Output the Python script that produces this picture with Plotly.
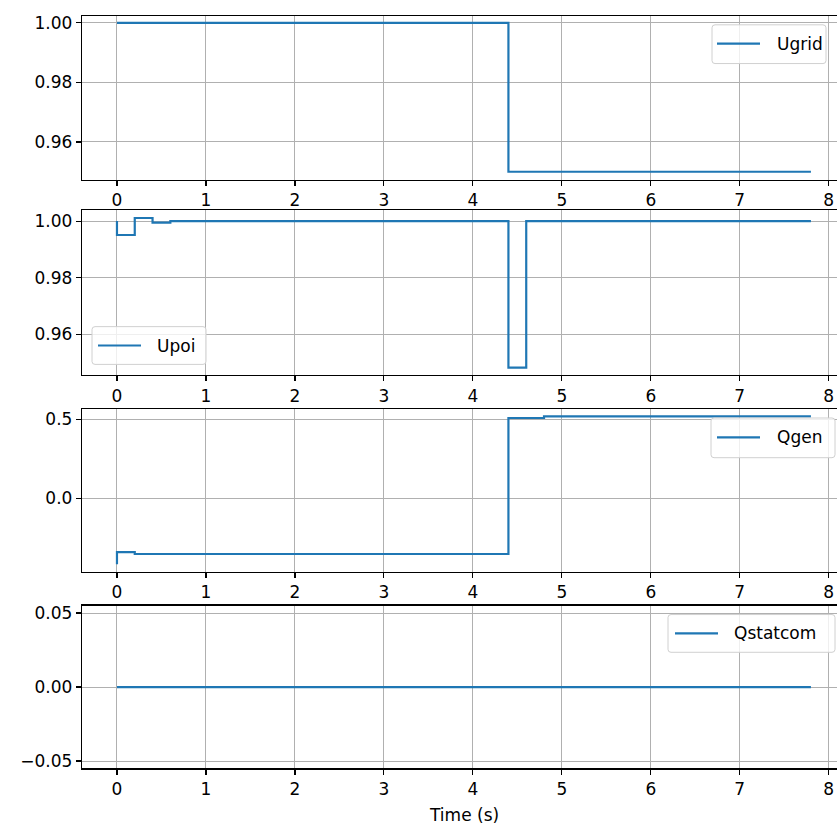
import plotly.graph_objects as go

# Step-change breakpoints (time in s, value held from that time on)
ugrid_t = [0.0, 4.4, 7.8]
ugrid_v = [1.0, 0.95, 0.95]

upoi_t = [0.0, 0.0, 0.2, 0.4, 0.6, 4.4, 4.6, 7.8]
upoi_v = [1.0, 0.9951, 1.0011, 0.9995, 1.0, 0.9483, 1.0, 1.0]

qgen_t = [0.0, 0.0, 0.2, 4.4, 4.8, 7.8]
qgen_v = [-0.418, -0.341, -0.353, 0.508, 0.518, 0.518]

qstat_t = [0.0, 7.8]
qstat_v = [0.0, 0.0]

x_ticks = [0, 1, 2, 3, 4, 5, 6, 7, 8]
x_label = "Time (s)"

W, H = 837, 832
FONT = "DejaVu Sans"
FS = 17
BLUE = "#1f77b4"


def px(x):
    return x / W


def py(y):
    return 1 - y / H


panels = [
    # name, t, v, y-range, dtick, fmt, spine top/bottom (px)
    ("Ugrid", ugrid_t, ugrid_v, [0.94733, 1.00233], 0.02, ".2f", 13, 178),
    ("Upoi", upoi_t, upoi_v, [0.94561, 1.00375], 0.02, ".2f", 209, 375),
    ("Qgen", qgen_t, qgen_v, [-0.466, 0.5646], 0.5, ".1f", 409, 573),
    ("Qstatcom", qstat_t, qstat_v, [-0.055, 0.055], 0.05, ".2f", 607, 771),
]

# legend boxes: left, right, top, bottom, line x0, line x1, line y, text x (px)
legend_boxes = [
    (712, 826, 22, 61, 717, 760, 41, 775),
    (92, 206, 326, 364, 98, 141, 345, 155),
    (711, 835, 418, 458, 717, 760, 437.5, 775),
    (668, 835, 616, 654, 675, 718, 635, 732),
]

fig = go.Figure()
layout = dict(
    width=W, height=H, autosize=False,
    margin=dict(l=0, r=0, t=0, b=0),
    plot_bgcolor="white", paper_bgcolor="white",
    font=dict(family=FONT, size=FS, color="black"),
    showlegend=False,
)

shapes = []
annotations = []

for i, (name, t, v, yr, dt, fmt, top, bot) in enumerate(panels):
    k = "" if i == 0 else str(i + 1)
    fig.add_trace(go.Scatter(
        x=t, y=v, mode="lines", name=name,
        line=dict(color=BLUE, width=2.2, shape="hv"),
        xaxis="x" + k, yaxis="y" + k,
    ))
    layout["xaxis" + k] = dict(
        domain=[px(82), 1.0], range=[-0.393, 8.093], anchor="y" + k,
        tickvals=x_ticks, ticktext=[str(x) for x in x_ticks],
        showgrid=True, gridcolor="#b0b0b0", gridwidth=1,
        showline=True, linecolor="black", linewidth=1.2, mirror=True,
        ticks="outside", ticklen=5, tickwidth=1.2, tickcolor="black",
        zeroline=False, tickfont=dict(family=FONT, size=FS, color="black"),
        ticklabeloverflow="allow",
    )
    layout["yaxis" + k] = dict(
        domain=[py(bot), py(top)], range=yr, anchor="x" + k,
        dtick=dt, tick0=0, tickformat=fmt,
        showgrid=True, gridcolor="#b0b0b0", gridwidth=1,
        showline=True, linecolor="black", linewidth=1.2, mirror=False,
        ticks="outside", ticklen=5, tickwidth=1.2, tickcolor="black",
        zeroline=False, tickfont=dict(family=FONT, size=FS, color="black"),
    )

    # legend (drawn as a rounded frame, a line sample and a text label)
    l, r, tp, bt, lx0, lx1, ly, tx = legend_boxes[i]
    rad = 3
    path = (
        f"M {px(l + rad)},{py(tp)} L {px(r - rad)},{py(tp)} "
        f"Q {px(r)},{py(tp)} {px(r)},{py(tp + rad)} "
        f"L {px(r)},{py(bt - rad)} Q {px(r)},{py(bt)} {px(r - rad)},{py(bt)} "
        f"L {px(l + rad)},{py(bt)} Q {px(l)},{py(bt)} {px(l)},{py(bt - rad)} "
        f"L {px(l)},{py(tp + rad)} Q {px(l)},{py(tp)} {px(l + rad)},{py(tp)} Z"
    )
    shapes.append(dict(
        type="path", path=path, xref="paper", yref="paper",
        fillcolor="rgba(255,255,255,0.8)", line=dict(color="#d0d0d0", width=1),
        layer="above",
    ))
    shapes.append(dict(
        type="line", xref="paper", yref="paper",
        x0=px(lx0), x1=px(lx1), y0=py(ly), y1=py(ly),
        line=dict(color=BLUE, width=2.2), layer="above",
    ))
    annotations.append(dict(
        text=name, x=px(tx), y=py(ly), xref="paper", yref="paper",
        xanchor="left", yanchor="middle", showarrow=False,
        font=dict(family=FONT, size=FS, color="black"),
    ))

annotations.append(dict(
    text=x_label, x=px(463.8), y=py(818), xref="paper", yref="paper",
    xanchor="center", yanchor="middle", showarrow=False,
    font=dict(family=FONT, size=FS, color="black"),
))

layout["shapes"] = shapes
layout["annotations"] = annotations

fig.update_layout(**layout)
fig.write_html(
    "out.html",
    config={"displayModeBar": False, "staticPlot": True},
    post_script="document.body.style.margin='0px';document.body.style.overflow='hidden';",
)
